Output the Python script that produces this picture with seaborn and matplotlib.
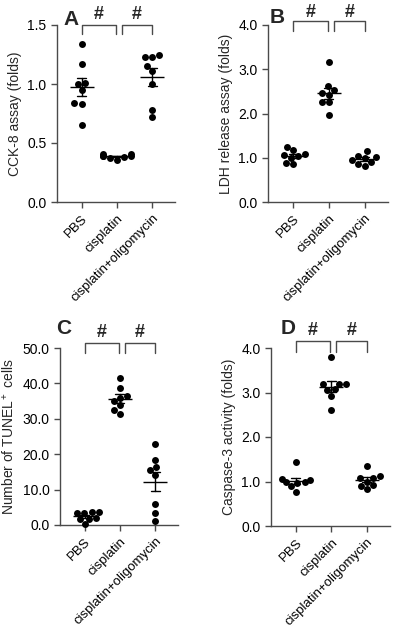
import numpy as np
import pandas as pd
import matplotlib
matplotlib.use("Agg")
import matplotlib.pyplot as plt
import seaborn as sns

groups = ["PBS", "cisplatin", "cisplatin+oligomycin"]

cck8_pbs = [1.34, 1.17, 1.00, 1.01, 0.95, 0.84, 0.83, 0.65]
cck8_cis = [0.41, 0.38, 0.37, 0.39, 0.39, 0.41, 0.36, 0.39]
cck8_oli = [1.25, 1.23, 1.23, 1.15, 1.11, 1.00, 0.78, 0.72]

ldh_pbs = [1.25, 1.17, 1.07, 1.08, 1.03, 1.00, 0.88, 0.85]
ldh_cis = [3.17, 2.62, 2.52, 2.47, 2.41, 2.27, 2.25, 1.97]
ldh_oli = [1.15, 1.05, 1.02, 1.00, 0.95, 0.90, 0.85, 0.82]

tunel_pbs = [3.8, 3.6, 3.5, 3.3, 2.0, 1.8, 1.7, 0.2]
tunel_cis = [41.5, 38.8, 36.0, 36.5, 35.0, 34.0, 32.5, 31.3]
tunel_oli = [23.0, 18.5, 16.5, 15.5, 14.2, 5.9, 3.3, 1.2]

casp_pbs = [1.43, 1.06, 1.04, 1.00, 0.98, 0.97, 0.89, 0.77]
casp_cis = [3.80, 3.20, 3.20, 3.18, 3.08, 3.05, 2.92, 2.60]
casp_oli = [1.35, 1.12, 1.07, 1.08, 1.00, 0.92, 0.91, 0.83]

ylabels = ["CCK-8 assay (folds)", "LDH release assay (folds)",
           "Number of TUNEL$^+$ cells", "Caspase-3 activity (folds)"]
letters = ["A", "B", "C", "D"]
yticks_list = [[0.0, 0.5, 1.0, 1.5], [0.0, 1.0, 2.0, 3.0, 4.0],
               [0, 10, 20, 30, 40, 50], [0.0, 1.0, 2.0, 3.0, 4.0]]

panels = [
    (cck8_pbs, cck8_cis, cck8_oli),
    (ldh_pbs, ldh_cis, ldh_oli),
    (tunel_pbs, tunel_cis, tunel_oli),
    (casp_pbs, casp_cis, casp_oli),
]

sns.set_style("ticks")
plt.rcParams['font.family'] = ['Liberation Sans', 'DejaVu Sans']
plt.rcParams['mathtext.fontset'] = 'custom'
plt.rcParams['mathtext.rm'] = 'Liberation Sans'
plt.rcParams['mathtext.it'] = 'Liberation Sans:italic'

AX_COL = "#4a4a4a"

fig = plt.figure(figsize=(3.93, 6.34), dpi=100)
W, H = 393, 634
# (left, right, top, bottom) in pixels
boxes = [(57, 175, 25, 202), (268, 388, 25, 202),
         (60, 178, 348, 525), (271, 390, 348, 526)]
# bracket y (axes frac), leg bottom, hash y, letter x, letter y
annot = [(1.0, 0.95, 1.058, 0.12, 1.03),
         (1.02, 0.965, 1.07, 0.08, 1.04),
         (1.027, 0.97, 1.09, 0.03, 1.11),
         (1.04, 0.98, 1.10, 0.14, 1.11)]

for i, (vals, box) in enumerate(zip(panels, boxes)):
    l, r, t, b = box
    ax = fig.add_axes([l / W, 1 - b / H, (r - l) / W, (b - t) / H])
    df = pd.DataFrame({
        "group": sum([[g] * len(v) for g, v in zip(groups, vals)], []),
        "value": sum([list(v) for v in vals], []),
    })
    sns.swarmplot(data=df, x="group", y="value", order=groups, color="black",
                  size=5, ax=ax, zorder=3, clip_on=False)
    sns.pointplot(data=df, x="group", y="value", order=groups, errorbar="se",
                  capsize=0.25, color="black", marker="_", markersize=17,
                  markeredgewidth=1.0, linestyle="none",
                  err_kws={"linewidth": 1.0}, ax=ax, zorder=4)
    yt = yticks_list[i]
    ax.set_ylim(yt[0], yt[-1])
    ax.set_yticks(yt)
    ax.set_yticklabels([f"{v:.1f}" for v in yt], fontsize=10)
    ax.set_xlim(-0.7, 2.65)
    ax.set_xticks(range(3))
    ax.set_xticklabels(groups, rotation=45, ha="right", rotation_mode="anchor",
                       fontsize=9.5)
    ax.set_xlabel("")
    ax.set_ylabel(ylabels[i], fontsize=10, labelpad=4)
    for s in ["top", "right"]:
        ax.spines[s].set_visible(False)
    for s in ["left", "bottom"]:
        ax.spines[s].set_color(AX_COL)
        ax.spines[s].set_linewidth(1.0)
    ax.tick_params(colors=AX_COL, labelcolor="black", width=1.0, length=4)

    by, leg, hy, lx, ly = annot[i]
    tr = ax.get_xaxis_transform()
    for x0, x1 in [(0.0, 0.97), (1.14, 2.0)]:
        ax.plot([x0, x0, x1, x1], [leg, by, by, leg], color=AX_COL, lw=1.0,
                transform=tr, clip_on=False)
        ax.text((x0 + x1) / 2, hy, "#", transform=tr, ha="center",
                va="center", fontsize=13, fontweight="bold")
    ax.text(lx, ly, letters[i], transform=ax.transAxes, ha="center",
            va="center", fontsize=15, fontweight="bold")

fig.savefig("out.png", dpi=100)
